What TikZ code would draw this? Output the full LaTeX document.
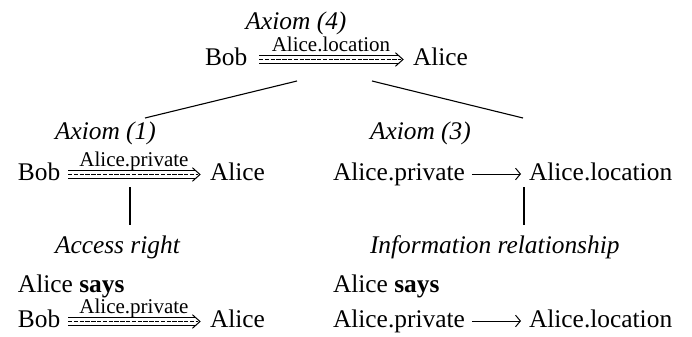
\documentclass[tikz,border=0pt]{standalone}
\usepackage{fontspec}
\setmainfont{Liberation Serif}[ItalicFont={Liberation Serif Italic}, BoldFont={Liberation Serif Bold}]
\usetikzlibrary{arrows.meta}
\newcommand\tarrow[2]{%
  \draw[line width=0.5pt] ([yshift=1.8pt]#1) -- ([xshift=-2.4pt,yshift=1.8pt]#2);
  \draw[line width=0.5pt, dash pattern=on 2.2pt off 0.7pt] (#1) -- ([xshift=-1pt]#2);
  \draw[line width=0.5pt] ([yshift=-1.8pt]#1) -- ([xshift=-2.4pt,yshift=-1.8pt]#2);
  \draw[line width=0.5pt] ([xshift=-3.8pt,yshift=3.4pt]#2) -- (#2) -- ([xshift=-3.8pt,yshift=-3.4pt]#2);
}
\tikzset{
  txt/.style={inner sep=0pt, outer sep=0pt, anchor=base west, font=\fontsize{12.7}{15}\selectfont},
  ax/.style={txt, font=\fontsize{12.7}{15}\selectfont\itshape},
  lbl/.style={inner sep=0pt, outer sep=0pt, anchor=base, font=\fontsize{10.5}{12}\selectfont},
  tree/.style={line width=0.55pt},
  vert/.style={line width=0.9pt},
  sarrow/.style={line width=0.5pt, -{Straight Barb[length=2.4pt,width=5.8pt]}}
}
\begin{document}
\begin{tikzpicture}[x=0.5pt,y=-0.5pt]
\useasboundingbox (0,0) rectangle (692,337);
% top
\node[ax, anchor=base] (ax4) at (296,29) {Axiom (4)};
\node[txt] (bobT) at (205,65) {Bob};
\node[txt] (aliceT) at (413,65) {Alice};
\coordinate (t1) at (259,59.5);
\coordinate (t2) at (403,59.5);
\tarrow{t1}{t2}
\node[lbl] (labT) at (331,51.5) {Alice.location};
% tree lines
\coordinate (lt) at (297,81);
\coordinate (lb) at (145,118);
\coordinate (rt) at (372,81);
\coordinate (rb) at (523,118);
\draw[tree] (lt) -- (lb);
\draw[tree] (rt) -- (rb);
% left middle
\node[ax] (ax1) at (55,140) {Axiom (1)};
\node[txt] (bobL) at (18,180) {Bob};
\node[txt] (aliceL) at (210,180) {Alice};
\coordinate (l1) at (68,174.5);
\coordinate (l2) at (200,174.5);
\tarrow{l1}{l2}
\node[lbl] (labL) at (134,166) {Alice.private};
% right middle
\node[ax] (ax3) at (370,140) {Axiom (3)};
\node[txt] (privR) at (333,180) {Alice.private};
\node[txt] (locR) at (529,180) {Alice.location};
\draw[sarrow] ([xshift=3.5pt,yshift=3pt]privR.base east) -- ([xshift=-4pt,yshift=3pt]locR.base west);
% vertical lines
\coordinate (v1t) at (130,187);
\coordinate (v1b) at (130,225);
\coordinate (v2t) at (524,187);
\coordinate (v2b) at (524,225);
\draw[vert] (v1t) -- (v1b);
\draw[vert] (v2t) -- (v2b);
% captions
\node[ax] (acc) at (55,253) {Access right};
\node[ax] (inf) at (370,253) {Information relationship};
% bottom left
\node[txt] (saysL) at (18,292) {Alice \textbf{says}};
\node[txt] (bobB) at (18,327) {Bob};
\node[txt] (aliceB) at (210,327) {Alice};
\coordinate (b1) at (68,321.5);
\coordinate (b2) at (200,321.5);
\tarrow{b1}{b2}
\node[lbl] (labB) at (134,313) {Alice.private};
% bottom right
\node[txt] (saysR) at (333,292) {Alice \textbf{says}};
\node[txt] (privB) at (333,327) {Alice.private};
\node[txt] (locB) at (529,327) {Alice.location};
\draw[sarrow] ([xshift=3.5pt,yshift=3pt]privB.base east) -- ([xshift=-4pt,yshift=3pt]locB.base west);
\end{tikzpicture}
\end{document}
